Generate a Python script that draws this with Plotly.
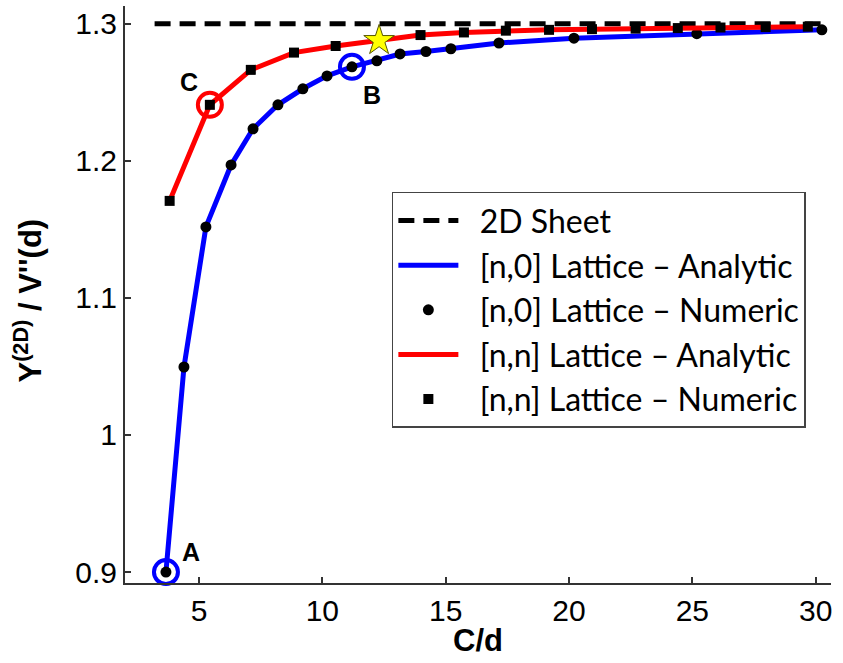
import plotly.graph_objects as go

# ---- data ----
sheet_x = [3.2, 30.25]
sheet_y = [1.3, 1.3]

n0_x = [3.66, 4.39, 5.28, 6.30, 7.19, 8.20, 9.21, 10.19, 11.20, 12.21, 13.15, 14.20, 15.21, 17.16, 20.20, 25.18, 30.25]
n0_y = [0.900, 1.0496, 1.1518, 1.1970, 1.2234, 1.2409, 1.2526, 1.2620, 1.2686, 1.2730, 1.2780, 1.2798, 1.2818, 1.2860, 1.2895, 1.2928, 1.2956]

nn_x = [3.81, 5.44, 7.10, 8.85, 10.54, 12.25, 13.98, 15.74, 17.44, 19.19, 20.93, 22.70, 24.41, 26.14, 27.97, 29.68]
nn_y = [1.1708, 1.2409, 1.2664, 1.2790, 1.2838, 1.2880, 1.2918, 1.2937, 1.2950, 1.2956, 1.2961, 1.2965, 1.2969, 1.2973, 1.2976, 1.2979]

# highlighted points
ring_blue_x = [3.66, 11.20]
ring_blue_y = [0.900, 1.2686]
ring_red_x = [5.44]
ring_red_y = [1.2409]
star_x = [12.30]
star_y = [1.2878]

labels = ["A", "B", "C"]
label_x = [4.66, 12.01, 4.59]
label_y = [0.9148, 1.2482, 1.2577]

x_ticks = [5, 10, 15, 20, 25, 30]
y_ticks = [0.9, 1.0, 1.1, 1.2, 1.3]
y_ticktext = ["0.9", "1", "1.1", "1.2", "1.3"]

names = ["2D Sheet", "[n,0] Lattice \u2013 Analytic", "[n,0] Lattice \u2013 Numeric",
         "[n,n] Lattice \u2013 Analytic", "[n,n] Lattice \u2013 Numeric"]
pad = "\u00a0\u00a0"

fig = go.Figure()

fig.add_trace(go.Scatter(x=sheet_x, y=sheet_y, mode="lines", name=pad + names[0],
                         line=dict(color="black", width=5, dash="16px,9px"),
                         legendgroup="a"))
fig.add_trace(go.Scatter(x=n0_x, y=n0_y, mode="lines", name=pad + names[1],
                         line=dict(color="#0000FF", width=5), legendgroup="b"))
fig.add_trace(go.Scatter(x=n0_x, y=n0_y, mode="markers", name=pad + names[2],
                         marker=dict(color="black", size=11, symbol="circle"), legendgroup="c"))
fig.add_trace(go.Scatter(x=nn_x, y=nn_y, mode="lines", name=pad + names[3],
                         line=dict(color="#FF0000", width=5), legendgroup="d"))
fig.add_trace(go.Scatter(x=nn_x, y=nn_y, mode="markers", name=pad + names[4],
                         marker=dict(color="black", size=10, symbol="square"), legendgroup="e"))

fig.add_trace(go.Scatter(x=ring_blue_x, y=ring_blue_y, mode="markers", showlegend=False,
                         cliponaxis=False,
                         marker=dict(symbol="circle-open", size=24, color="#0000FF",
                                     line=dict(width=4, color="#0000FF"))))
fig.add_trace(go.Scatter(x=ring_red_x, y=ring_red_y, mode="markers", showlegend=False,
                         cliponaxis=False,
                         marker=dict(symbol="circle-open", size=24, color="#FF0000",
                                     line=dict(width=4, color="#FF0000"))))
fig.add_trace(go.Scatter(x=star_x, y=star_y, mode="markers", showlegend=False,
                         marker=dict(symbol="star", size=23, color="#FFFF00",
                                     line=dict(width=1, color="#555500"))))

for t, lx, ly in zip(labels, label_x, label_y):
    fig.add_annotation(x=lx, y=ly, text="<b>%s</b>" % t, showarrow=False,
                       font=dict(family="Arial, Liberation Sans", size=25, color="black"))

# axis titles
fig.add_annotation(x=0.5, y=-0.1, xref="paper", yref="paper", text="<b>C/d</b>",
                   showarrow=False, yanchor="middle",
                   font=dict(family="Arial, Liberation Sans", size=31, color="black"))
fig.add_annotation(x=-0.137, y=0.49, xref="paper", yref="paper",
                   text="<b>Y<sup>(2D)</sup> / V''(d)</b>", textangle=-90,
                   showarrow=False, xanchor="center", yanchor="middle",
                   font=dict(family="Arial, Liberation Sans", size=31, color="black"))

axis_common = dict(showline=True, linecolor="#333333", linewidth=2, ticks="inside",
                   ticklen=6, tickwidth=1.5, tickcolor="#333333", showgrid=False,
                   zeroline=False, tickfont=dict(family="Arial, Liberation Sans", size=30, color="black"))

fig.update_layout(
    width=843, height=663,
    margin=dict(l=125, r=12, t=6, b=80),
    paper_bgcolor="white", plot_bgcolor="white",
    xaxis=dict(range=[2, 30.62], tickvals=x_ticks, ticklabelstandoff=0, automargin=False,
               **axis_common),
    yaxis=dict(range=[0.892, 1.313], tickvals=y_ticks, ticktext=y_ticktext, automargin=False,
               **axis_common),
    legend=dict(x=0.378, y=0.678, xanchor="left", yanchor="top",
                bgcolor="white", bordercolor="#444444", borderwidth=1.5,
                font=dict(family="Lato", size=32, color="black"),
                itemwidth=60, tracegroupgap=0),
)

fig.write_html("out.html")
